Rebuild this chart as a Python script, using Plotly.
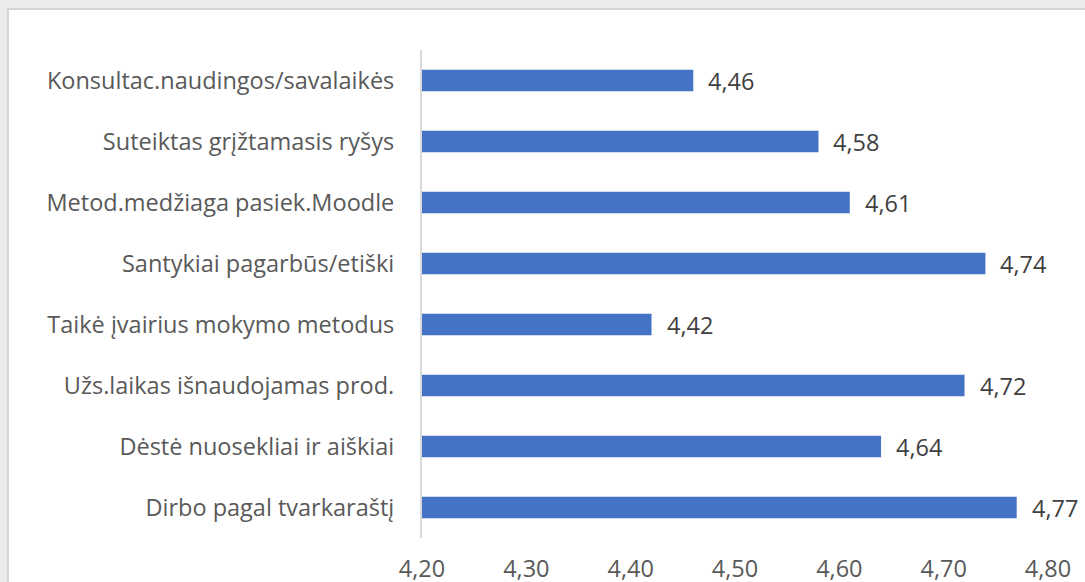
import plotly.graph_objects as go

categories = [
    "Konsultac.naudingos/savalaikės",
    "Suteiktas grįžtamasis ryšys",
    "Metod.medžiaga pasiek.Moodle",
    "Santykiai pagarbūs/etiški",
    "Taikė įvairius mokymo metodus",
    "Užs.laikas išnaudojamas prod.",
    "Dėstė nuosekliai ir aiškiai",
    "Dirbo pagal tvarkaraštį",
]
values = [4.46, 4.58, 4.61, 4.74, 4.42, 4.72, 4.64, 4.77]
x_ticks = [4.20, 4.30, 4.40, 4.50, 4.60, 4.70, 4.80]

W, H = 1085, 582
ML, MR, MT, MB = 422, 37, 50, 44
pw, ph = W - ML - MR, H - MT - MB

def px_x(p):
    return (p - ML) / pw

def px_y(p):
    return (H - MB - p) / ph

FONT = "Open Sans"
FS = 23.5

fig = go.Figure()
fig.add_trace(go.Bar(
    x=values, y=categories, orientation="h",
    marker=dict(color="#4472C4", line=dict(width=0)),
    hoverinfo="skip",
))

for c, v in zip(categories, values):
    fig.add_annotation(x=v, y=c, xref="x", yref="y", text=f"{v:.2f}".replace(".", ","),
                       showarrow=False, xanchor="left", xshift=13,
                       font=dict(family=FONT, size=FS, color="#404040"))

fig.add_shape(type="rect", xref="paper", yref="paper",
              x0=px_x(8), x1=px_x(W + 20), y0=px_y(H + 20), y1=px_y(9),
              fillcolor="white", line=dict(color="#d6d6d6", width=2), layer="below")

fig.update_layout(
    width=W, height=H,
    margin=dict(l=ML, r=MR, t=MT, b=MB, pad=0, autoexpand=False),
    paper_bgcolor="#ebebeb",
    plot_bgcolor="rgba(0,0,0,0)",
    separators=", ",
    showlegend=False,
    bargap=0.65,
    font=dict(family=FONT, color="#595959", size=FS),
    xaxis=dict(range=[4.2, 4.8], tickvals=x_ticks, tickformat=".2f", automargin=False,
               showgrid=False, zeroline=False, showline=False,
               ticklabelstandoff=14, tickfont=dict(size=FS, color="#595959")),
    yaxis=dict(categoryorder="array", categoryarray=categories, autorange="reversed",
               automargin=False,
               showline=True, linecolor="#d9d9d9", linewidth=2, showgrid=False,
               ticklabelstandoff=21, tickfont=dict(size=FS, color="#595959")),
)

fig.write_html("out.html", config={"displayModeBar": False},
               post_script="document.body.style.margin='0px';document.body.style.background='#ebebeb';")
